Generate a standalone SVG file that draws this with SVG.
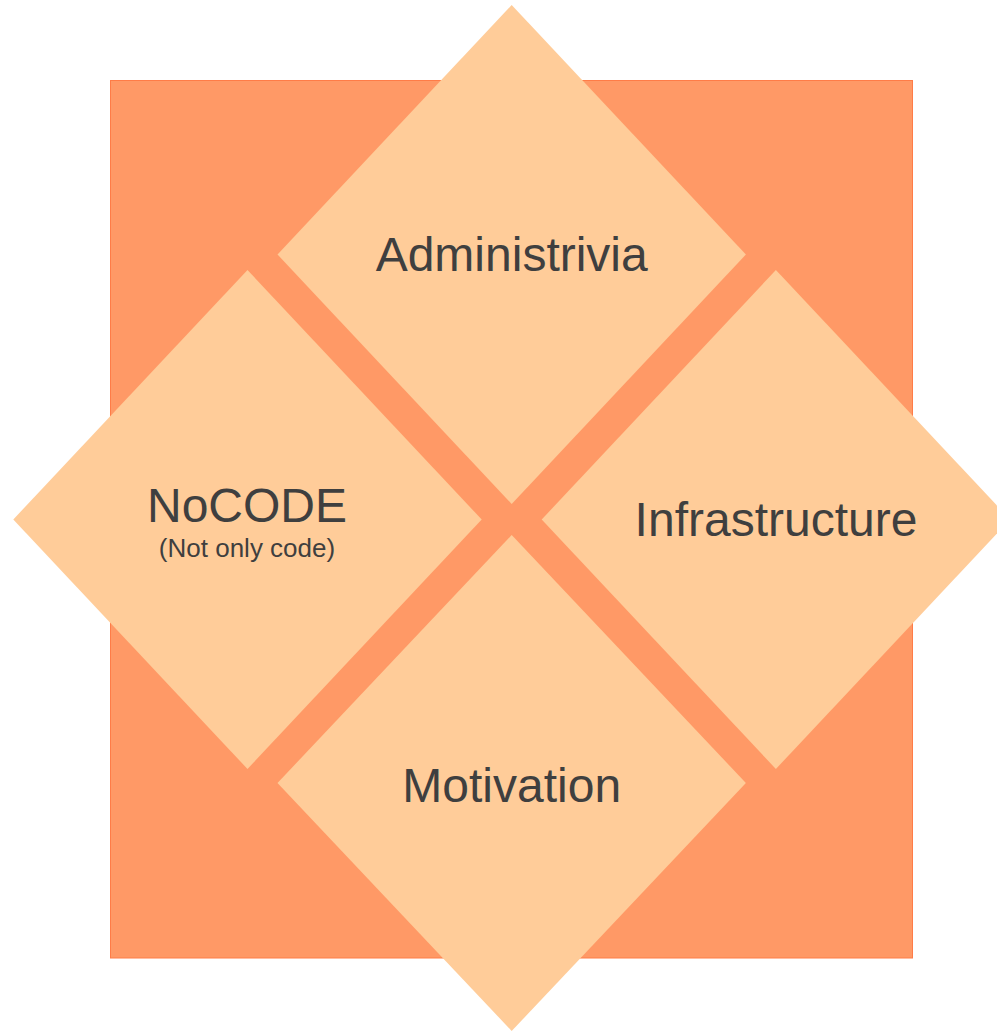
<svg xmlns="http://www.w3.org/2000/svg" width="997" height="1032" viewBox="0 0 997 1032">
<style>
.bg{fill:#ff9966;stroke:#ff7c47;stroke-width:1}
.d{fill:#ffcc99}
.t{font-family:"Liberation Sans",Arial,sans-serif;fill:#3f3f3f;text-anchor:middle}
.big{font-size:48px}
.small{font-size:26px}
</style>
<rect width="997" height="1032" fill="#ffffff"/>
<g id="background">
<rect class="bg" x="110.5" y="80.5" width="802" height="877.5"/>
</g>
<g id="connectors"></g>
<g id="administrivia">
<polygon class="d" points="511.7,5 745.9,254.5 511.7,504 277.5,254.5"/>
<text class="t big" x="511.7" y="271">Administrivia</text>
</g>
<g id="nocode">
<polygon class="d" points="247.5,270 481.7,519.5 247.5,769 13.3,519.5"/>
<text class="t big" x="247" y="521.5">NoCODE</text>
<text class="t small" x="247" y="557">(Not only code)</text>
</g>
<g id="infrastructure">
<polygon class="d" points="775.9,270 1010.1,519.5 775.9,769 541.7,519.5"/>
<text class="t big" x="776" y="536">Infrastructure</text>
</g>
<g id="motivation">
<polygon class="d" points="511.7,535 745.9,783 511.7,1031 277.5,783"/>
<text class="t big" x="511.7" y="802">Motivation</text>
</g>
</svg>
